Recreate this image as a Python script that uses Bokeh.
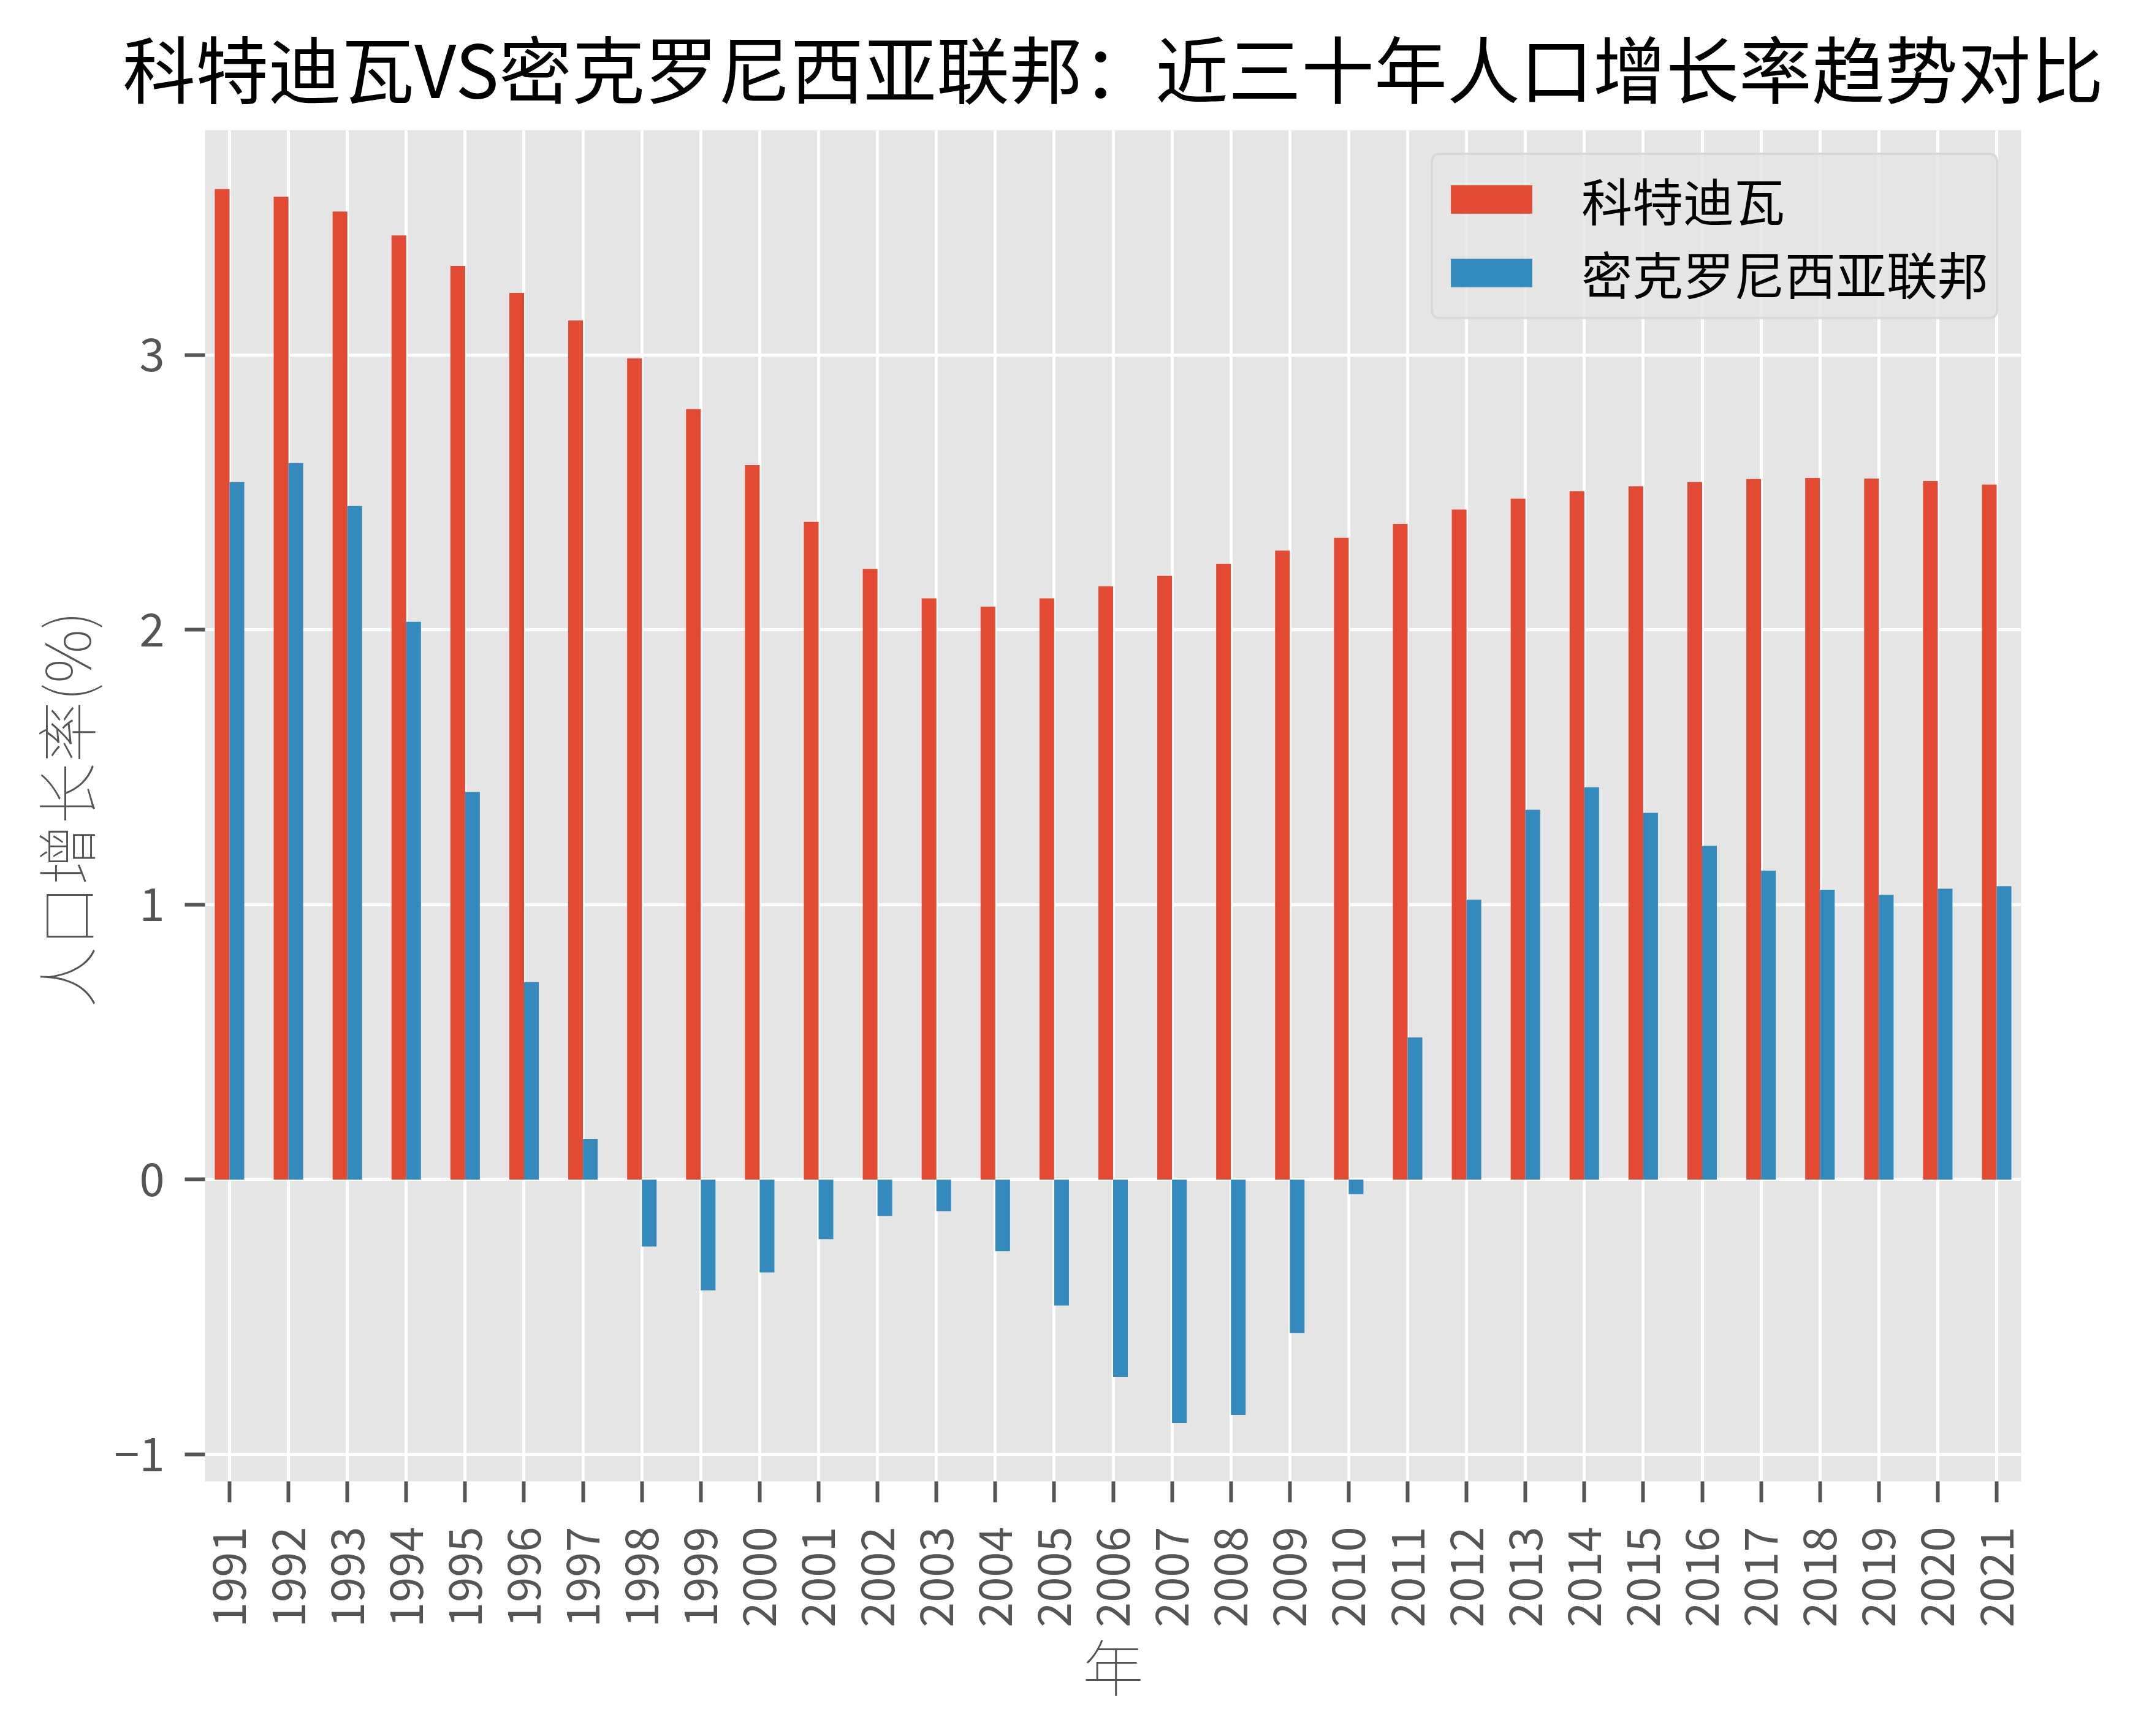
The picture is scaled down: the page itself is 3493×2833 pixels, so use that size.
from bokeh.plotting import figure
from bokeh.models import ColumnDataSource, FixedTicker, Legend, LegendItem
from bokeh.transform import dodge
from bokeh.embed import file_html
from bokeh.resources import INLINE
import math

years = [str(y) for y in range(1991, 2022)]
civ = [3.603, 3.575, 3.521, 3.434, 3.323, 3.225, 3.125, 2.987, 2.802, 2.599,
       2.392, 2.221, 2.114, 2.084, 2.114, 2.158, 2.196, 2.240, 2.288, 2.334,
       2.385, 2.437, 2.477, 2.504, 2.522, 2.537, 2.548, 2.552, 2.550, 2.541, 2.528]
fsm = [2.537, 2.606, 2.450, 2.029, 1.410, 0.718, 0.147, -0.244, -0.403, -0.338,
       -0.217, -0.132, -0.115, -0.261, -0.458, -0.718, -0.885, -0.856, -0.558, -0.053,
       0.517, 1.018, 1.345, 1.427, 1.334, 1.214, 1.124, 1.054, 1.036, 1.058, 1.067]
series_names = ["科特迪瓦", "密克罗尼西亚联邦"]
y_ticks = [-1, 0, 1, 2, 3]

title_text = "科特迪瓦VS密克罗尼西亚联邦：近三十年人口增长率趋势对比"
x_label = "年"
y_label = "人口增长率(%)"

idx = list(range(len(years)))
src = ColumnDataSource(dict(idx=idx, year=years, civ=civ, fsm=fsm))

FONT = "Noto Sans CJK SC"
GRAY = "#555555"

p = figure(width=3493, height=2833, output_backend="svg", toolbar_location=None,
           x_range=(-0.416, len(years) - 1 + 0.416), y_range=(-1.098, 3.817),
           min_border_left=334, min_border_right=196, min_border_top=210, min_border_bottom=416,
           background_fill_color="#E5E5E5", border_fill_color="white")
p.outline_line_color = None

r1 = p.vbar(x=dodge("idx", -0.125), top="civ", bottom=0, width=0.25, source=src,
            fill_color="#E24A33", line_color=None)
r2 = p.vbar(x=dodge("idx", 0.125), top="fsm", bottom=0, width=0.25, source=src,
            fill_color="#348ABD", line_color=None)

p.title.text = title_text
p.title.text_font = FONT
p.title.text_font_size = "119px"
p.title.text_font_style = "normal"
p.title.text_color = "black"
p.title.align = "center"
p.title.standoff = 38

p.xaxis.ticker = FixedTicker(ticks=idx)
p.xaxis.major_label_overrides = {i: y for i, y in zip(idx, years)}
p.xaxis.major_label_orientation = math.pi / 2
p.yaxis.ticker = FixedTicker(ticks=y_ticks)
p.yaxis.major_label_overrides = {t: (("−" + str(-t)) if t < 0 else str(t)) for t in y_ticks}

for ax in (p.xaxis[0], p.yaxis[0]):
    ax.axis_line_color = None
    ax.major_tick_line_color = GRAY
    ax.major_tick_line_width = 6
    ax.minor_tick_line_color = None
    ax.major_tick_in = 0
    ax.major_label_text_font = FONT
    ax.major_label_text_font_size = "74px"
    ax.major_label_text_color = GRAY
    ax.axis_label_text_font = FONT
    ax.axis_label_text_font_size = "100px"
    ax.axis_label_text_color = GRAY
    ax.axis_label_text_font_style = "normal"

p.xaxis.major_tick_out = 34
p.xaxis.major_label_standoff = 40
p.xaxis.axis_label = x_label
p.xaxis.axis_label_standoff = -15
p.yaxis.major_tick_out = 33
p.yaxis.major_label_standoff = 33
p.yaxis.axis_label = y_label
p.yaxis.axis_label_standoff = 6

p.grid.grid_line_color = "white"
p.grid.grid_line_width = 5
p.xgrid.ticker = FixedTicker(ticks=idx)
p.ygrid.ticker = FixedTicker(ticks=y_ticks)

legend = Legend(items=[LegendItem(label=series_names[0], renderers=[r1]),
                       LegendItem(label=series_names[1], renderers=[r2])],
                location="top_right")
legend.label_text_font = FONT
legend.label_text_font_size = "83px"
legend.label_text_color = "black"
legend.glyph_width = 166
legend.glyph_height = 58
legend.label_height = 58
legend.label_standoff = 64
legend.spacing = 0
legend.padding = 12
legend.margin = 37
legend.background_fill_color = "#E5E5E5"
legend.background_fill_alpha = 0.8
legend.border_line_color = "#CCCCCC"
legend.border_line_width = 4
legend.border_radius = 14
p.add_layout(legend)

open("out.html", "w").write(file_html(p, INLINE))
